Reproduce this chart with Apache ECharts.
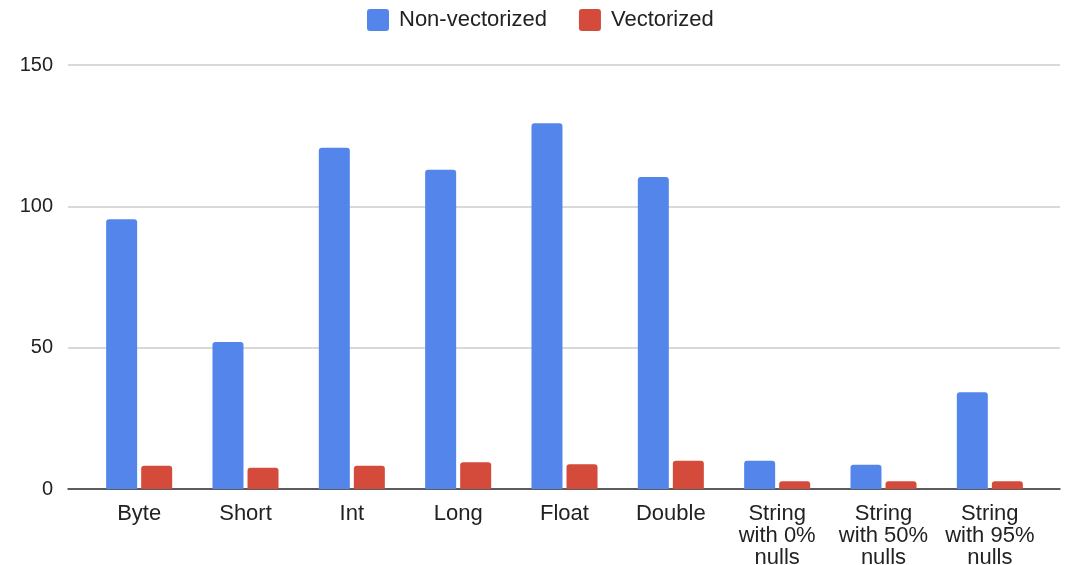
<!DOCTYPE html>
<html>
<head>
<meta charset="utf-8">
<script src="https://cdn.jsdelivr.net/npm/echarts@6/dist/echarts.min.js"></script>
<style>
html,body{margin:0;padding:0;background:#fff;}
#chart{width:1070px;height:565px;}
</style>
</head>
<body>
<div id="chart"></div>
<script>
const categories = ['Byte', 'Short', 'Int', 'Long', 'Float', 'Double', 'String\nwith 0%\nnulls', 'String\nwith 50%\nnulls', 'String\nwith 95%\nnulls'];
const nonVectorized = [95.4, 52, 120.7, 112.9, 129.4, 110.4, 10.0, 8.6, 34.2];
const vectorized = [8.2, 7.5, 8.2, 9.5, 8.8, 10.0, 2.7, 2.7, 2.7];
const seriesNames = ['Non-vectorized', 'Vectorized'];
const yTicks = { min: 0, max: 150, interval: 50 };

const FONT = '"Liberation Sans", Arial, Helvetica, sans-serif';
const ICON = 'path://M3,0 H19 Q22,0 22,3 V19 Q22,22 19,22 H3 Q0,22 0,19 V3 Q0,0 3,0 Z';
const chart = echarts.init(document.getElementById('chart'), null, { renderer: 'canvas' });
chart.setOption({
  animation: false,
  textStyle: { fontFamily: FONT },
  legend: {
    top: 4, left: 362,
    itemWidth: 22, itemHeight: 22, itemGap: 32,
    icon: ICON,
    textStyle: { fontSize: 22, color: '#222', fontFamily: FONT, padding: [0, 0, 0, 5] },
    data: seriesNames
  },
  grid: [
    { left: 68, right: 10, top: 65, bottom: 76, outerBoundsMode: 'none', containLabel: false },
    { left: 86, right: 27, top: 65, bottom: 76, outerBoundsMode: 'none', containLabel: false }
  ],
  xAxis: [
    { type: 'value', gridIndex: 0, min: 0, max: 1,
      axisLine: { show: true, onZero: false, lineStyle: { color: '#333', width: 1.5 } },
      axisTick: { show: false }, axisLabel: { show: false }, splitLine: { show: false } },
    { type: 'category', gridIndex: 1, data: categories,
      axisLine: { show: false }, axisTick: { show: false },
      axisLabel: { fontSize: 22, color: '#222', lineHeight: 22, margin: 14, interval: 0, fontFamily: FONT } }
  ],
  yAxis: [
    { type: 'value', gridIndex: 0, min: yTicks.min, max: yTicks.max, interval: yTicks.interval,
      axisLine: { show: false }, axisTick: { show: false },
      axisLabel: { fontSize: 20, color: '#222', margin: 15, fontFamily: FONT },
      splitLine: { lineStyle: { color: '#cccccc', width: 1.5 } } },
    { type: 'value', gridIndex: 1, min: yTicks.min, max: yTicks.max, interval: yTicks.interval, show: false,
      splitLine: { show: false } }
  ],
  series: [
    { name: seriesNames[0], type: 'bar', xAxisIndex: 1, yAxisIndex: 1, data: nonVectorized,
      barWidth: 31, barGap: '13%',
      itemStyle: { color: '#5485EB', borderRadius: [3, 3, 0, 0] } },
    { name: seriesNames[1], type: 'bar', xAxisIndex: 1, yAxisIndex: 1, data: vectorized,
      barWidth: 31, barGap: '13%',
      itemStyle: { color: '#D44B3B', borderRadius: [3, 3, 0, 0] } }
  ]
});
</script>
</body>
</html>
